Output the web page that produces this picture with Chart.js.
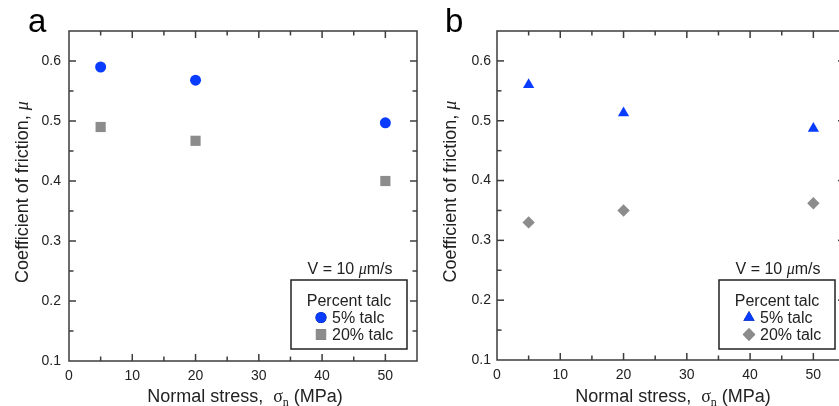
<!DOCTYPE html>
<html>
<head>
<meta charset="utf-8">
<script src="https://cdn.jsdelivr.net/npm/chart.js@4/dist/chart.umd.min.js"></script>
<style>
  html, body { margin: 0; padding: 0; background: #fff; overflow: hidden; }
  body { width: 839px; height: 406px; position: relative; }
  canvas { position: absolute; top: 0; }
</style>
</head>
<body>
<canvas id="panelA" width="420" height="406" style="left:0px"></canvas>
<canvas id="panelB" width="430" height="406" style="left:420px"></canvas>
<script>
// data
const stress = [5, 20, 50];            // normal stress, MPa
const talc5A = [0.59, 0.568, 0.497];
const talc20A = [0.49, 0.467, 0.40];
const talc5B = [0.56, 0.513, 0.487];
const talc20B = [0.33, 0.35, 0.362];
const seriesNames = ["5% talc", "20% talc"];
const legendTitle = "Percent talc";
const xRange = [0, 55];
const yRange = [0.1, 0.65];

const blue = "#0a3cff";
const gray = "#8c8c8c";
const axisColor = "#3c3c3c";
const textColor = "#222";
const sans = "'Liberation Sans', Arial, sans-serif";
const serif = "'Liberation Serif', 'Times New Roman', serif";

function pts(ys) {
    return stress.map((x, i) => ({ x: x, y: ys[i] }));
}

function line(ctx, x1, y1, x2, y2) {
    ctx.beginPath();
    ctx.moveTo(x1, y1);
    ctx.lineTo(x2, y2);
    ctx.stroke();
}

// draws mixed-font text pieces left to right, returns width
function pieces(ctx, parts, x, y, measureOnly) {
    let w = 0;
    parts.forEach(p => {
        ctx.font = p.font;
        if (!measureOnly) ctx.fillText(p.t, x + w, y + (p.dy || 0));
        w += ctx.measureText(p.t).width;
    });
    return w;
}

function makePanel(id, cfg) {
    const panelPlugin = {
        id: "panel" + id,
        beforeDatasetsDraw(chart) {
            const { ctx, chartArea: a, scales: { x, y } } = chart;
            ctx.save();
            ctx.strokeStyle = axisColor;
            ctx.lineWidth = 1.5;
            ctx.strokeRect(a.left, a.top, a.right - a.left, a.bottom - a.top);
            x.ticks.forEach(t => {
                if (t.value <= x.min || t.value >= x.max) return;
                const px = x.getPixelForValue(t.value);
                const len = t.label !== "" ? 7 : 4.5;
                line(ctx, px, a.bottom, px, a.bottom - len);
                line(ctx, px, a.top, px, a.top + len);
            });
            y.ticks.forEach(t => {
                if (t.value <= y.min + 1e-9 || t.value >= y.max - 1e-9) return;
                const py = y.getPixelForValue(t.value);
                const len = t.label !== "" ? 7 : 4.5;
                line(ctx, a.left, py, a.left + len, py);
                line(ctx, a.right, py, a.right - len, py);
            });
            ctx.restore();
        },
        afterDraw(chart) {
            const { ctx, chartArea: a } = chart;
            ctx.save();
            ctx.fillStyle = textColor;
            ctx.textBaseline = "alphabetic";

            // panel letter
            ctx.font = "33px " + sans;
            ctx.fillStyle = "#000";
            ctx.fillText(cfg.letter, cfg.letterX, 32);
            ctx.fillStyle = textColor;

            // x axis title
            const xParts = [
                { t: "Normal stress,  ", font: "18px " + sans },
                { t: "\u03c3", font: "18px " + serif },
                { t: "n", font: "12px " + serif, dy: 4 },
                { t: " (MPa)", font: "18px " + sans }
            ];
            const xw = pieces(ctx, xParts, 0, 0, true);
            pieces(ctx, xParts, (a.left + a.right) / 2 + 2 - xw / 2, 402);

            // y axis title
            const yParts = [
                { t: "Coefficient of friction, ", font: "18px " + sans },
                { t: "\u03bc", font: "italic 18px " + serif }
            ];
            const yw = pieces(ctx, yParts, 0, 0, true);
            ctx.save();
            ctx.translate(cfg.yTitleX, (a.top + a.bottom) / 2 - 4);
            ctx.rotate(-Math.PI / 2);
            ctx.textBaseline = "middle";
            pieces(ctx, yParts, -yw / 2, 0);
            ctx.restore();

            // legend box
            const bw = 116, bh = 69;
            const bx = a.right - 10 - bw, by = 280;
            ctx.strokeStyle = "#222";
            ctx.lineWidth = 1.5;
            ctx.strokeRect(bx, by, bw, bh);

            // velocity note
            const vParts = [
                { t: "V = 10 ", font: "16px " + sans },
                { t: "\u03bc", font: "italic 16px " + serif },
                { t: "m/s", font: "16px " + sans }
            ];
            const vw = pieces(ctx, vParts, 0, 0, true);
            pieces(ctx, vParts, bx + bw / 2 + 1 - vw / 2, 274);

            ctx.font = "16px " + sans;
            ctx.textAlign = "center";
            ctx.fillText(legendTitle, bx + bw / 2, 306);
            ctx.textAlign = "left";
            const ds = chart.data.datasets;
            [323, 340].forEach((ly, i) => {
                const d = ds[i];
                Chart.helpers.drawPoint(ctx, {
                    pointStyle: d.pointStyle,
                    radius: d.pointRadius,
                    borderWidth: 0,
                    rotation: 0
                }, bx + 30, ly - 5.5);
                ctx.fillStyle = d.backgroundColor;
                ctx.fill();
                ctx.fillStyle = textColor;
                ctx.fillText(seriesNames[i], bx + 41, ly);
            });
            ctx.restore();
        }
    };

    return new Chart(document.getElementById(id), {
        type: "scatter",
        data: {
            datasets: [
                {
                    label: seriesNames[0],
                    data: pts(cfg.s5),
                    pointStyle: cfg.style5,
                    pointRadius: cfg.r5,
                    backgroundColor: blue,
                    borderWidth: 0
                },
                {
                    label: seriesNames[1],
                    data: pts(cfg.s20),
                    pointStyle: cfg.style20,
                    pointRadius: cfg.r20,
                    backgroundColor: gray,
                    borderWidth: 0
                }
            ]
        },
        options: {
            responsive: false,
            animation: false,
            devicePixelRatio: 1,
            layout: {
                autoPadding: false,
                padding: { top: 31, right: cfg.padRight, left: 0, bottom: 0 }
            },
            plugins: { legend: { display: false }, tooltip: { enabled: false } },
            scales: {
                x: {
                    type: "linear",
                    min: xRange[0],
                    max: xRange[1],
                    grid: { display: false, drawTicks: false },
                    border: { display: false },
                    afterFit: s => {
                        s.height = cfg.xHeight;
                        s.paddingLeft = 0;
                        s.paddingRight = 0;
                    },
                    ticks: {
                        stepSize: 5,
                        autoSkip: false,
                        maxRotation: 0,
                        padding: 7,
                        color: textColor,
                        font: { family: sans, size: 14 },
                        callback: v => (v % 10 === 0 && v < 55 ? String(v) : "")
                    }
                },
                y: {
                    min: yRange[0],
                    max: yRange[1],
                    grid: { display: false, drawTicks: false },
                    border: { display: false },
                    afterFit: s => {
                        s.width = cfg.yWidth;
                        s.paddingTop = 0;
                        s.paddingBottom = 0;
                    },
                    ticks: {
                        stepSize: 0.05,
                        autoSkip: false,
                        padding: cfg.yPad,
                        color: textColor,
                        font: { family: sans, size: 14 },
                        callback: v => {
                            const t = v * 10;
                            if (Math.abs(t - Math.round(t)) > 1e-6 || v > 0.62) return "";
                            return v.toFixed(1);
                        }
                    }
                }
            }
        },
        plugins: [panelPlugin]
    });
}

makePanel("panelA", {
    letter: "a", letterX: 28, yTitleX: 23,
    s5: talc5A, s20: talc20A,
    style5: "circle", r5: 5.5, style20: "rect", r20: 7.2,
    padRight: 3, xHeight: 45, yWidth: 69, yPad: 8
});

makePanel("panelB", {
    letter: "b", letterX: 25, yTitleX: 31,
    s5: talc5B, s20: talc20B,
    style5: "triangle", r5: 6.5, style20: "rectRot", r20: 6.2,
    padRight: 5, xHeight: 46, yWidth: 77, yPad: 6
});
</script>
</body>
</html>
